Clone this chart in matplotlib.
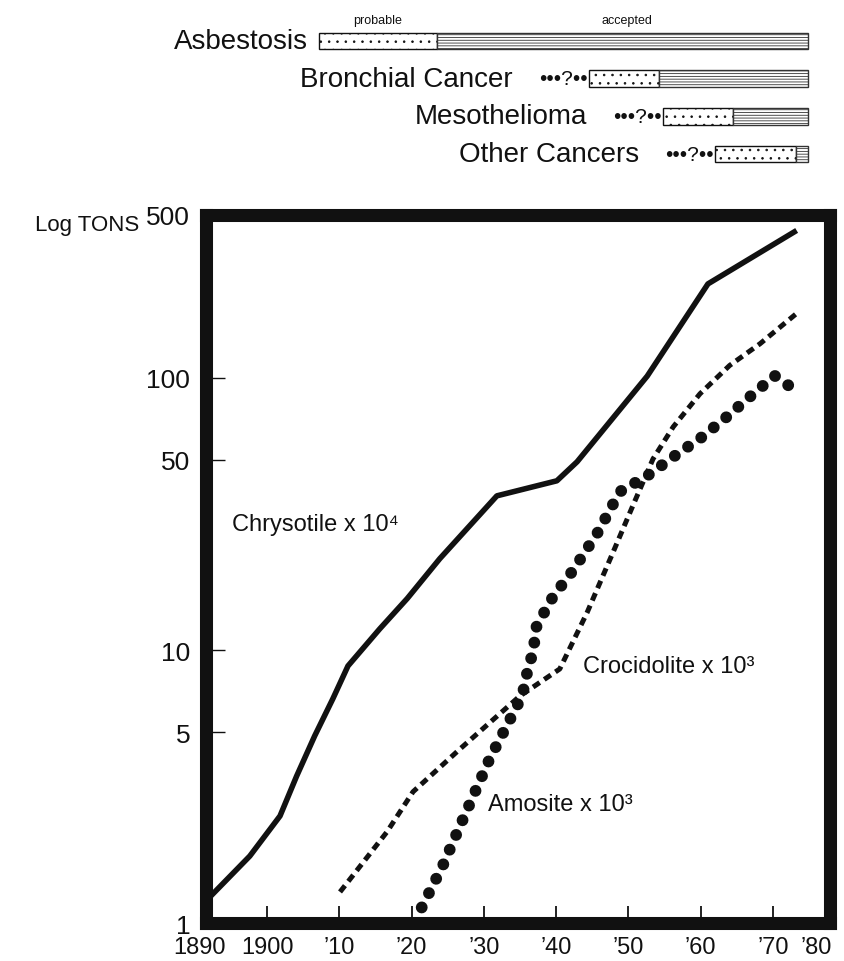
import numpy as np
import matplotlib
matplotlib.use("Agg")
import matplotlib.pyplot as plt
from matplotlib.ticker import FixedLocator, NullLocator
from matplotlib.transforms import ScaledTranslation

plt.rcParams['font.family'] = ['Liberation Sans', 'DejaVu Sans']
plt.rcParams['hatch.linewidth'] = 0.6

# ==============================
# DATA
# ==============================
chrysotile_year = [1890, 1897.2, 1901.8, 1904.1, 1906.6, 1909.1, 1911.2, 1915.6,
                   1919.4, 1923.9, 1931.8, 1940.1, 1942.9, 1952.6, 1961.0, 1973.7]
chrysotile_tons = [1.2, 1.76, 2.47, 3.46, 4.86, 6.64, 8.77, 12.0,
                   15.5, 21.7, 36.9, 41.9, 49.2, 101.7, 253, 423]

crocidolite_year = [1910.1, 1916.6, 1920.2, 1926.7, 1935.0, 1940.5, 1944.3, 1947.9,
                    1950.6, 1953.4, 1956.2, 1959.9, 1964.0, 1968.2, 1974.0]
crocidolite_tons = [1.30, 2.16, 3.03, 4.35, 6.81, 8.55, 13.8, 23.0,
                    33.9, 50.4, 66.1, 87.4, 113, 140, 188]

amosite_year = [1921.4, 1924.3, 1926.7, 1930.8, 1935.3, 1936.1, 1936.8, 1937.3, 1939.6,
                1942.3, 1945.8, 1948.8, 1952.6, 1956.4, 1960.2, 1963.6, 1966.8,
                1970.3, 1972.1, 1974.1]
amosite_tons = [1.14, 1.62, 2.27, 4.00, 6.81, 8.55, 9.87, 12.3, 15.8,
                19.6, 27.2, 38.2, 43.7, 51.7, 60.7, 71.9, 85.2,
                102, 95.9, 88.9]

# disease recognition timeline (top panel)
diseases = ['Asbestosis', 'Bronchial Cancer', 'Mesothelioma', 'Other Cancers']
probable_from = [1907.2, 1944.5, 1954.8, 1962.0]
accepted_from = [1923.5, 1954.2, 1964.5, 1974.0]
accepted_to = [1976.1, 1976.1, 1976.1, 1976.1]

x_ticks = [1890, 1900, 1910, 1920, 1930, 1940, 1950, 1960, 1970, 1980]
x_labels = ['1890', '1900', '\u201910', '\u201920', '\u201930', '\u201940',
            '\u201950', '\u201960', '\u201970', '\u201980']
y_ticks = [1, 5, 10, 50, 100, 500]
y_labels = ['1', '5', '10', '50', '100', '500']


# ==============================
# HAND-DRAWN AXES: piecewise scales
# ==============================
def piecewise(k_in, k_out):
    k_in = np.asarray(k_in, float)
    k_out = np.asarray(k_out, float)

    def f(v):
        v = np.asarray(v, float)
        out = np.interp(v, k_in, k_out)
        s0 = (k_out[1] - k_out[0]) / (k_in[1] - k_in[0])
        s1 = (k_out[-1] - k_out[-2]) / (k_in[-1] - k_in[-2])
        out = np.where(v < k_in[0], k_out[0] + (v - k_in[0]) * s0, out)
        out = np.where(v > k_in[-1], k_out[-1] + (v - k_in[-1]) * s1, out)
        return out
    return f


# the 1890 and 1980 intervals are drawn shorter than the other decades
x_fwd = piecewise([1890, 1900, 1970, 1980], [0, 0.0984, 0.908, 1.0])
x_inv = piecewise([0, 0.0984, 0.908, 1.0], [1890, 1900, 1970, 1980])

# log axis, compressed between 100 and 500
_ly = piecewise([0, 2, np.log10(500)], [0, 0.770, 1.0])
_ly_inv = piecewise([0, 0.770, 1.0], [0, 2, np.log10(500)])


def y_fwd(v):
    return _ly(np.log10(np.clip(np.asarray(v, float), 1e-6, None)))


def y_inv(u):
    return 10 ** _ly_inv(u)


# ==============================
# FIGURE
# ==============================
fig = plt.figure(figsize=(8.44, 9.62), dpi=100)
ax = fig.add_axes([0.2435, 0.0395, 0.7405, 0.736])
ax.set_xscale('function', functions=(x_fwd, x_inv))
ax.set_yscale('function', functions=(y_fwd, y_inv))
ax.set_xlim(1890, 1980)
ax.set_ylim(1, 500)

ink = '#111111'
ax.plot(chrysotile_year, chrysotile_tons, color=ink, lw=4, solid_joinstyle='round')
ax.plot(crocidolite_year, crocidolite_tons, color=ink, lw=3.6,
        linestyle=(0, (1.6, 1.1)), dash_capstyle='butt')
ax.plot(amosite_year, amosite_tons, color=ink, lw=8.5,
        linestyle=(0, (0.01, 1.35)), dash_capstyle='round')

ax.text(1894.3, 29.1, 'Chrysotile x 10\u2074', fontsize=17, va='center', color=ink)
ax.text(1943.7, 8.77, 'Crocidolite x 10\u00b3', fontsize=17, va='center', color=ink)
ax.text(1930.6, 2.73, 'Amosite x 10\u00b3', fontsize=17, va='center', color=ink)

for side in ax.spines.values():
    side.set_linewidth(9.4)
    side.set_color(ink)

ax.xaxis.set_major_locator(FixedLocator(x_ticks))
ax.xaxis.set_minor_locator(NullLocator())
ax.set_xticklabels(x_labels, fontsize=17)
ax.yaxis.set_major_locator(FixedLocator(y_ticks))
ax.yaxis.set_minor_locator(NullLocator())
ax.set_yticklabels(y_labels, fontsize=19)
ax.tick_params(axis='x', direction='in', length=12, width=1.3, pad=9, colors=ink)
ax.tick_params(axis='y', direction='in', length=14, width=1.0, pad=11, colors=ink)

# pull the end labels in so they sit under the frame corners
lab = ax.get_xticklabels()
lab[0].set_transform(lab[0].get_transform() + ScaledTranslation(-4 / 72, 0, fig.dpi_scale_trans))
lab[-1].set_transform(lab[-1].get_transform() + ScaledTranslation(-10 / 72, 0, fig.dpi_scale_trans))

fig.text(35 / 844, 1 - 225 / 962, 'Log TONS', fontsize=16, va='center', color=ink)

# ==============================
# TOP PANEL: when each disease was linked to asbestos
# ==============================
top = fig.add_axes([0.2435, 0.8193, 0.7405, 0.1566], sharex=ax)
rows = np.arange(len(diseases))
bar_h = 0.45
p_left = np.array(probable_from)
a_left = np.array(accepted_from)
a_right = np.array(accepted_to)

top.barh(rows, a_left - p_left, left=p_left, height=bar_h, color='white',
         edgecolor=ink, hatch='..', linewidth=1.0)
top.barh(rows, a_right - a_left, left=a_left, height=bar_h, color='white',
         edgecolor='#333333', hatch='------', linewidth=1.0)
top.set_ylim(3.5, -0.5)
top.axis('off')

for i, name in enumerate(diseases):
    if i == 0:
        top.annotate(name, (p_left[i], i), xytext=(-8, 0), textcoords='offset points',
                     ha='right', va='center', fontsize=20, color=ink)
    else:
        top.annotate('\u2022\u2022\u2022?\u2022\u2022', (p_left[i], i), xytext=(-1, 0),
                     textcoords='offset points', ha='right', va='center',
                     fontsize=15, color=ink)
        top.annotate(name, (p_left[i], i), xytext=(-55, 0), textcoords='offset points',
                     ha='right', va='center', fontsize=20, color=ink)

top.annotate('probable', ((p_left[0] + a_left[0]) / 2, 0 - bar_h / 2), xytext=(0, 5),
             textcoords='offset points', ha='center', va='bottom', fontsize=9, color=ink)
top.annotate('accepted', ((a_left[0] + a_right[0]) / 2, 0 - bar_h / 2), xytext=(0, 5),
             textcoords='offset points', ha='center', va='bottom', fontsize=9, color=ink)

fig.savefig('out.png', dpi=100, facecolor='white')
